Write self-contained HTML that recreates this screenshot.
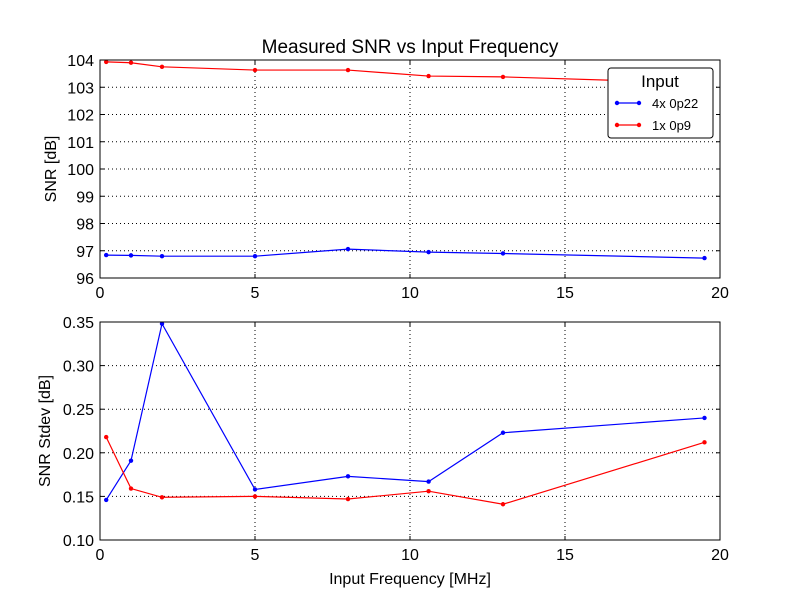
<!DOCTYPE html>
<html><head><meta charset="utf-8"><style>
body{margin:0;background:#fff;}
text{font-family:"Liberation Sans","DejaVu Sans",sans-serif;}
</style></head><body>
<svg id="c" width="800" height="600" xmlns="http://www.w3.org/2000/svg"></svg>
<script>
const freqs=[0.2,1.0,2.0,5.0,8.0,10.6,13.0,19.5];
const snrA=[96.84,96.83,96.8,96.8,97.06,96.95,96.9,96.73];
const snrB=[103.93,103.9,103.75,103.63,103.63,103.41,103.38,103.15];
const stdA=[0.146,0.191,0.348,0.158,0.173,0.167,0.223,0.240];
const stdB=[0.218,0.159,0.149,0.150,0.147,0.156,0.141,0.212];
const xTicks=[0,5,10,15,20];
const yTopTicks=[96,97,98,99,100,101,102,103,104];
const yBotTicks=[0.10,0.15,0.20,0.25,0.30,0.35];
const svg=document.getElementById('c');
const NS='http://www.w3.org/2000/svg';
function mk(t,a,p){const e=document.createElementNS(NS,t);for(const k in a)e.setAttribute(k,a[k]);(p||svg).appendChild(e);return e;}
const L=100,R=720;
const xs=v=>L+(v-0)/20*(R-L);
function panel(top,bot,y0,y1,ticks,fmt,sA,sB,ylab,name,labX){
  const ys=v=>bot-(v-y0)/(y1-y0)*(bot-top);
  const g=mk('g',{});
  
  
  xTicks.forEach(t=>{
    const l=mk('line',{x1:xs(t),x2:xs(t),y1:top,y2:bot,stroke:'#000','stroke-dasharray':'1,3','stroke-width':1},g);
    
    mk('line',{x1:xs(t),x2:xs(t),y1:bot,y2:bot-4,stroke:'#000'},g);
    mk('line',{x1:xs(t),x2:xs(t),y1:top,y2:top+4,stroke:'#000'},g);
    const tx=mk('text',{x:xs(t),y:bot+20,'font-size':16,'text-anchor':'middle'},g);tx.textContent=t;
    
  });
  ticks.forEach(t=>{
    const l=mk('line',{x1:L,x2:R,y1:ys(t),y2:ys(t),stroke:'#000','stroke-dasharray':'1,3','stroke-width':1},g);
    
    mk('line',{x1:L,x2:L+4,y1:ys(t),y2:ys(t),stroke:'#000'},g);
    mk('line',{x1:R,x2:R-4,y1:ys(t),y2:ys(t),stroke:'#000'},g);
    const tx=mk('text',{x:L-6,y:ys(t)+6,'font-size':16,'text-anchor':'end'},g);tx.textContent=fmt(t);
    
  });
  [[sA,'#0000ff','series-4x-0p22'],[sB,'#ff0000','series-1x-0p9']].forEach(([s,c,n])=>{
    const p=mk('polyline',{points:s.map((v,i)=>xs(freqs[i])+','+ys(v)).join(' '),fill:'none',stroke:c,'stroke-width':1.2},g);
    
    s.forEach((v,i)=>{const d=mk('circle',{cx:xs(freqs[i]),cy:ys(v),r:2.2,fill:c},g);
      });
  });
  const f=mk('rect',{x:L,y:top,width:R-L,height:bot-top,fill:'none',stroke:'#000'},g);
  
  const yl=mk('text',{x:0,y:0,'font-size':16,'text-anchor':'middle',transform:`translate(${labX},${(top+bot)/2}) rotate(-90)`},g);
  yl.textContent=ylab;
}
panel(60,278,96,104,yTopTicks,t=>t,snrA,snrB,'SNR [dB]','top-panel',56);
panel(322,540,0.10,0.35,yBotTicks,t=>t.toFixed(2),stdA,stdB,'SNR Stdev [dB]','bottom-panel',50);
const ti=mk('text',{x:410,y:53,'font-size':19,'text-anchor':'middle'});ti.textContent='Measured SNR vs Input Frequency';

const xl=mk('text',{x:410,y:584,'font-size':16,'text-anchor':'middle'});xl.textContent='Input Frequency [MHz]';

const lg=mk('g',{});
mk('rect',{x:608,y:68,width:105,height:70,rx:3,fill:'#fff',stroke:'#000'},lg);
const lt=mk('text',{x:660,y:87,'font-size':17,'text-anchor':'middle'},lg);lt.textContent='Input';
[['4x 0p22','#0000ff',103],['1x 0p9','#ff0000',125]].forEach(([n,c,y])=>{
  const e=mk('g',{},lg);
  mk('line',{x1:617,x2:639,y1:y,y2:y,stroke:c,'stroke-width':1.2},e);
  mk('circle',{cx:617,cy:y,r:2.2,fill:c},e);mk('circle',{cx:639,cy:y,r:2.2,fill:c},e);
  const t=mk('text',{x:652,y:y+5,'font-size':13},e);t.textContent=n;
});
</script>
</body></html>
